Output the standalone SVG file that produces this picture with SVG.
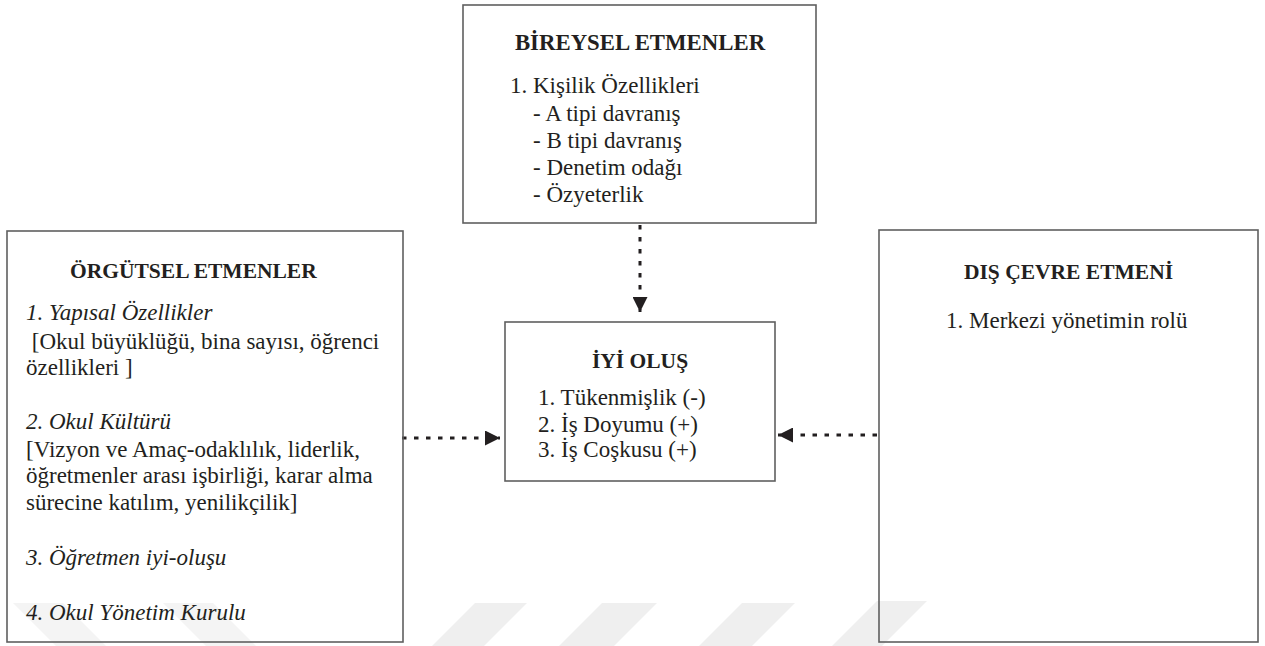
<svg xmlns="http://www.w3.org/2000/svg" width="1265" height="646" viewBox="0 0 1265 646">
  <defs>
    <style>
      .box { fill: none; stroke: #5f5f5f; stroke-width: 1.6; }
      .hd { font-weight: bold; font-size: 21.5px; fill: #231f20; }
      .big { font-size: 22.8px; }
      .tx { font-size: 23px; fill: #231f20; }
      .it { font-style: italic; }
      .mid { text-anchor: middle; }
      .link { fill: none; stroke: #231f20; stroke-width: 3; stroke-dasharray: 4.5 7.5; }
      .mark { fill: #efefef; }
      .soft { fill: #f4f4f4; }
    </style>
    <marker id="head" markerUnits="userSpaceOnUse" markerWidth="16" markerHeight="15" viewBox="0 0 16 15" refX="15" refY="7.5" orient="auto">
      <path d="M0,0 L15,7.5 L0,15 z" fill="#231f20"/>
    </marker>
  </defs>

  <rect width="1265" height="646" fill="#ffffff"/>

  <!-- faint background stripes along the bottom edge -->
  <g id="stripes">
    <polygon class="soft" points="13,603 63,603 106,646 56,646"/>
    <polygon class="soft" points="163,603 213,603 256,646 206,646"/>
    <polygon class="mark" points="475,603 527,603 484,646 432,646"/>
    <polygon class="mark" points="602,603 657,603 614,646 559,646"/>
    <polygon class="mark" points="742,603 795,603 752,646 699,646"/>
    <polygon class="mark" points="877,601 927,601 882,646 832,646"/>
  </g>

  <!-- connectors -->
  <g id="connectors">
    <line class="link" x1="640" y1="225" x2="640" y2="312" marker-end="url(#head)"/>
    <line class="link" x1="402" y1="438" x2="500" y2="438" marker-end="url(#head)"/>
    <line class="link" x1="877" y1="435" x2="778" y2="435" marker-end="url(#head)"/>
  </g>

  <g id="bireysel" font-family="Liberation Serif, Times New Roman, serif">
    <rect class="box" x="463" y="5" width="353" height="218"/>
    <text class="hd big mid" x="640" y="50">BİREYSEL ETMENLER</text>
    <text class="tx" x="510" y="93">1. Kişilik Özellikleri</text>
    <text class="tx" x="533" y="121">- A tipi davranış</text>
    <text class="tx" x="533" y="148">- B tipi davranış</text>
    <text class="tx" x="533" y="175">- Denetim odağı</text>
    <text class="tx" x="533" y="202">- Özyeterlik</text>
  </g>

  <g id="orgutsel" font-family="Liberation Serif, Times New Roman, serif">
    <rect class="box" x="7" y="231" width="396" height="411"/>
    <text class="hd" x="70" y="278">ÖRGÜTSEL ETMENLER</text>
    <text class="tx it" x="26" y="320">1. Yapısal Özellikler</text>
    <text class="tx" x="26" y="349" xml:space="preserve"> [Okul büyüklüğü, bina sayısı, öğrenci</text>
    <text class="tx" x="26" y="375">özellikleri ]</text>
    <text class="tx it" x="26" y="429">2. Okul Kültürü</text>
    <text class="tx" x="26" y="457">[Vizyon ve Amaç-odaklılık, liderlik,</text>
    <text class="tx" x="26" y="483">öğretmenler arası işbirliği, karar alma</text>
    <text class="tx" x="26" y="510">sürecine katılım, yenilikçilik]</text>
    <text class="tx it" x="26" y="565">3. Öğretmen iyi-oluşu</text>
    <text class="tx it" x="26" y="620">4. Okul Yönetim Kurulu</text>
  </g>

  <g id="iyi-olus" font-family="Liberation Serif, Times New Roman, serif">
    <rect class="box" x="505" y="322" width="270" height="159"/>
    <text class="hd mid" x="640" y="368">İYİ OLUŞ</text>
    <text class="tx" x="538" y="405">1. Tükenmişlik (-)</text>
    <text class="tx" x="538" y="432">2. İş Doyumu (+)</text>
    <text class="tx" x="538" y="457">3. İş Coşkusu (+)</text>
  </g>

  <g id="dis-cevre" font-family="Liberation Serif, Times New Roman, serif">
    <rect class="box" x="879" y="230" width="379" height="412"/>
    <text class="hd mid" x="1068.5" y="279">DIŞ ÇEVRE ETMENİ</text>
    <text class="tx" x="946" y="328">1. Merkezi yönetimin rolü</text>
  </g>
</svg>
